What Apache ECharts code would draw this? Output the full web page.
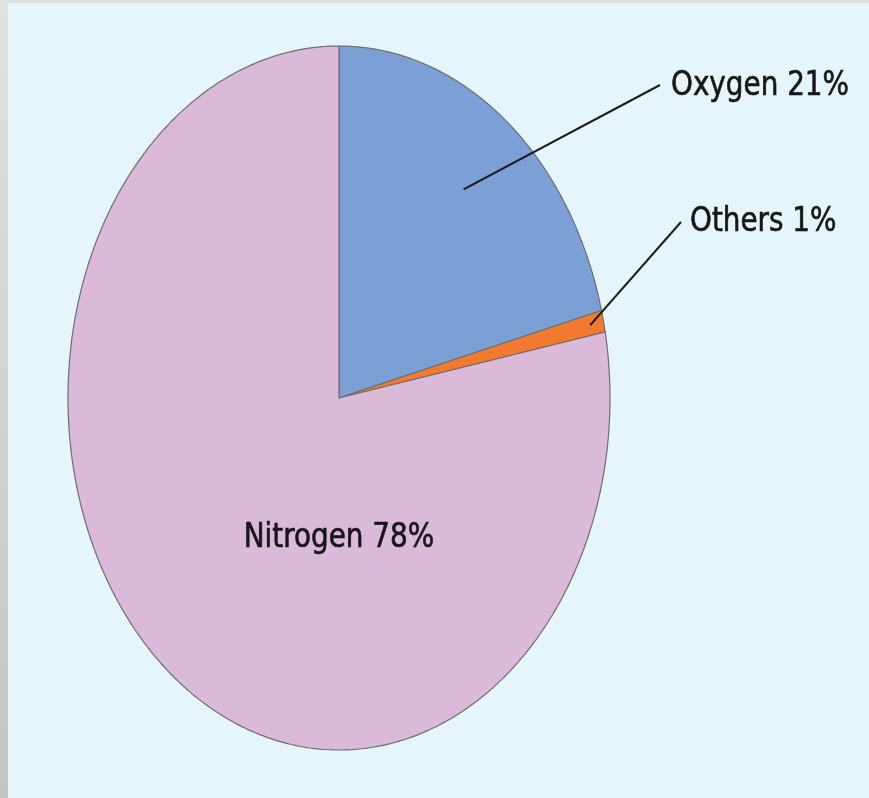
<!DOCTYPE html>
<html>
<head>
<meta charset="utf-8">
<script src="https://cdn.jsdelivr.net/npm/echarts@6/dist/echarts.min.js"></script>
<style>
  html, body { margin: 0; padding: 0; }
  body { width: 869px; height: 798px; background: linear-gradient(#dfe1e2, #c2c6c7); position: relative; overflow: hidden; }
  #panel { position: absolute; left: 8px; top: 3px; width: 861px; height: 795px; background: #e5f5fa; }
  #chart { position: absolute; left: 0; top: 0; width: 869px; height: 798px; }
</style>
</head>
<body>
<div id="panel"></div>
<div id="chart"></div>
<script>
// chart data
const categories = ['Oxygen', 'Others', 'Nitrogen'];
const percentages = [21, 1, 78];
const sliceColors = ['#7ca0d6', '#f27a30', '#dbb9d8'];

// the pie in the picture is an ellipse, so it is drawn with a custom series
const pieCenter = [339, 398];
const pieRadius = [271, 352];

// label placement: leader line starts at a fraction of the radius on the slice mid angle
const labelLayout = [
    { lineFrom: 0.75, lineTo: [660, 85], textAt: [671, 86], align: 'left' },
    { lineFrom: 0.95, lineTo: [681, 222], textAt: [690, 222], align: 'left' },
    { lineFrom: null, lineTo: null, textAt: [339, 538], align: 'center' }
];

const total = percentages.reduce((a, b) => a + b, 0);

function ellipsePoint(deg, frac) {
    const rad = deg * Math.PI / 180;
    return [
        pieCenter[0] + pieRadius[0] * frac * Math.sin(rad),
        pieCenter[1] - pieRadius[1] * frac * Math.cos(rad)
    ];
}

function renderSlice(params, api) {
    const idx = params.dataIndex;
    let before = 0;
    for (let i = 0; i < idx; i++) before += percentages[i];
    const startDeg = before / total * 360;
    const endDeg = (before + api.value(0)) / total * 360;

    const points = [pieCenter.slice()];
    const steps = Math.max(2, Math.ceil(endDeg - startDeg));
    for (let s = 0; s <= steps; s++) {
        points.push(ellipsePoint(startDeg + (endDeg - startDeg) * s / steps, 1));
    }

    const children = [{
        type: 'polygon',
        shape: { points: points },
        style: { fill: sliceColors[idx], stroke: '#6e6e6e', lineWidth: 1.2 }
    }];

    const lay = labelLayout[idx];
    if (lay.lineFrom !== null) {
        const start = ellipsePoint((startDeg + endDeg) / 2, lay.lineFrom);
        children.push({
            type: 'polyline',
            shape: { points: [start, lay.lineTo] },
            style: { stroke: '#1a1a1a', lineWidth: 2, fill: null },
            z2: 10
        });
    }
    // narrow the text a bit so it looks like the condensed face of the original
    children.push({
        type: 'text',
        x: lay.textAt[0],
        y: lay.textAt[1],
        scaleX: 0.91,
        style: {
            text: categories[idx] + ' ' + api.value(0) + '%',
            fontFamily: '"DejaVu Sans Condensed", "DejaVu Sans", sans-serif',
            fontSize: 34,
            fill: '#161616',
            stroke: '#161616',
            lineWidth: 0.6,
            align: lay.align,
            verticalAlign: 'middle'
        },
        z2: 11
    });

    return { type: 'group', children: children };
}

const chart = echarts.init(document.getElementById('chart'));
chart.setOption({
    backgroundColor: 'transparent',
    animation: false,
    series: [{
        type: 'custom',
        coordinateSystem: 'none',
        renderItem: renderSlice,
        data: percentages.map((v, i) => ({ name: categories[i], value: [v] }))
    }]
});
</script>
</body>
</html>
